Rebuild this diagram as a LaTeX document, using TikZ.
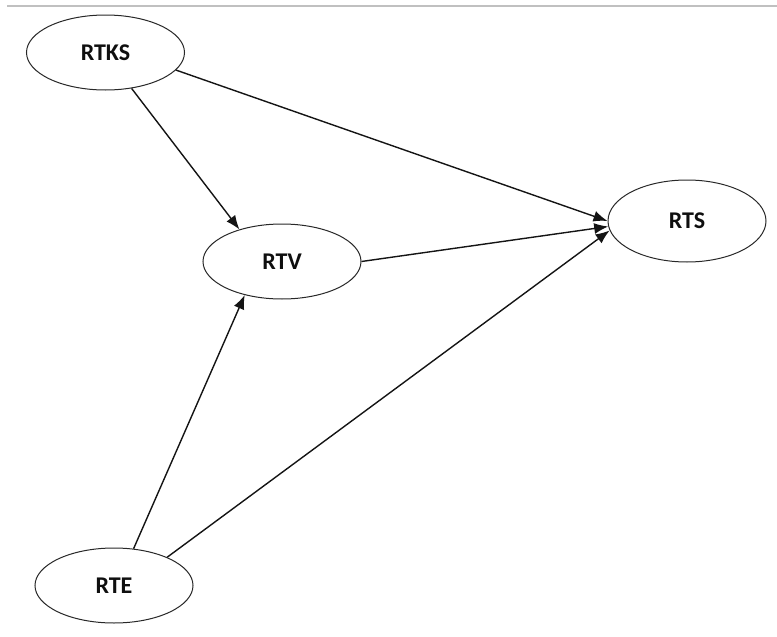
\documentclass[tikz,border=0pt]{standalone}
\usepackage{fontspec}
\setsansfont{Carlito}
\usepackage{tikz}
\usetikzlibrary{
  shapes.geometric,
  arrows.meta
}
\definecolor{nodeborder}{RGB}{40, 40, 40}
\definecolor{arrowcolor}{RGB}{20, 20, 20}
\definecolor{labelcolor}{RGB}{15, 15, 15}
\definecolor{dividercolor}{RGB}{192, 192, 192}
\tikzset{
varnode/.style={
  draw=nodeborder,
  ellipse,
  line width=1pt,
  fill=white,
  inner sep=0pt,
  minimum width=158pt,
  minimum height=75pt,
  font=\sffamily\bfseries\fontsize{24}{28}\selectfont,
  text=labelcolor
},
divider/.style={
  draw=dividercolor,
  line width=1.2pt
},
arrow/.style={
  -{Latex[length=14pt,width=11pt]},
  line width=1.4pt,
  draw=arrowcolor
}
}

\begin{document}
\begin{tikzpicture}[x=1pt, y=-1pt]
  \useasboundingbox (0,0) rectangle (777,637);
  \draw[divider] (7,6) -- (777,6);
  % variables
  \node[varnode] (rtks) at (105.5,52.5) {RTKS};
  \node[varnode] (rtv) at (282,261.5) {RTV};
  \node[varnode, minimum height=82pt] (rts) at (687,221) {RTS};
  \node[varnode] (rte) at (114,585.5) {RTE};
  % paths
  \draw[arrow] (rtks.-54) -- (rtv.143);
  \draw[arrow] (rtks.-14) -- (rts.180);
  \draw[arrow] (rtv.0) -- (rts.-176);
  \draw[arrow] (rte.62) -- (rtv.-138);
  \draw[arrow] (rte.28) -- (rts.-173);
\end{tikzpicture}
\end{document}
